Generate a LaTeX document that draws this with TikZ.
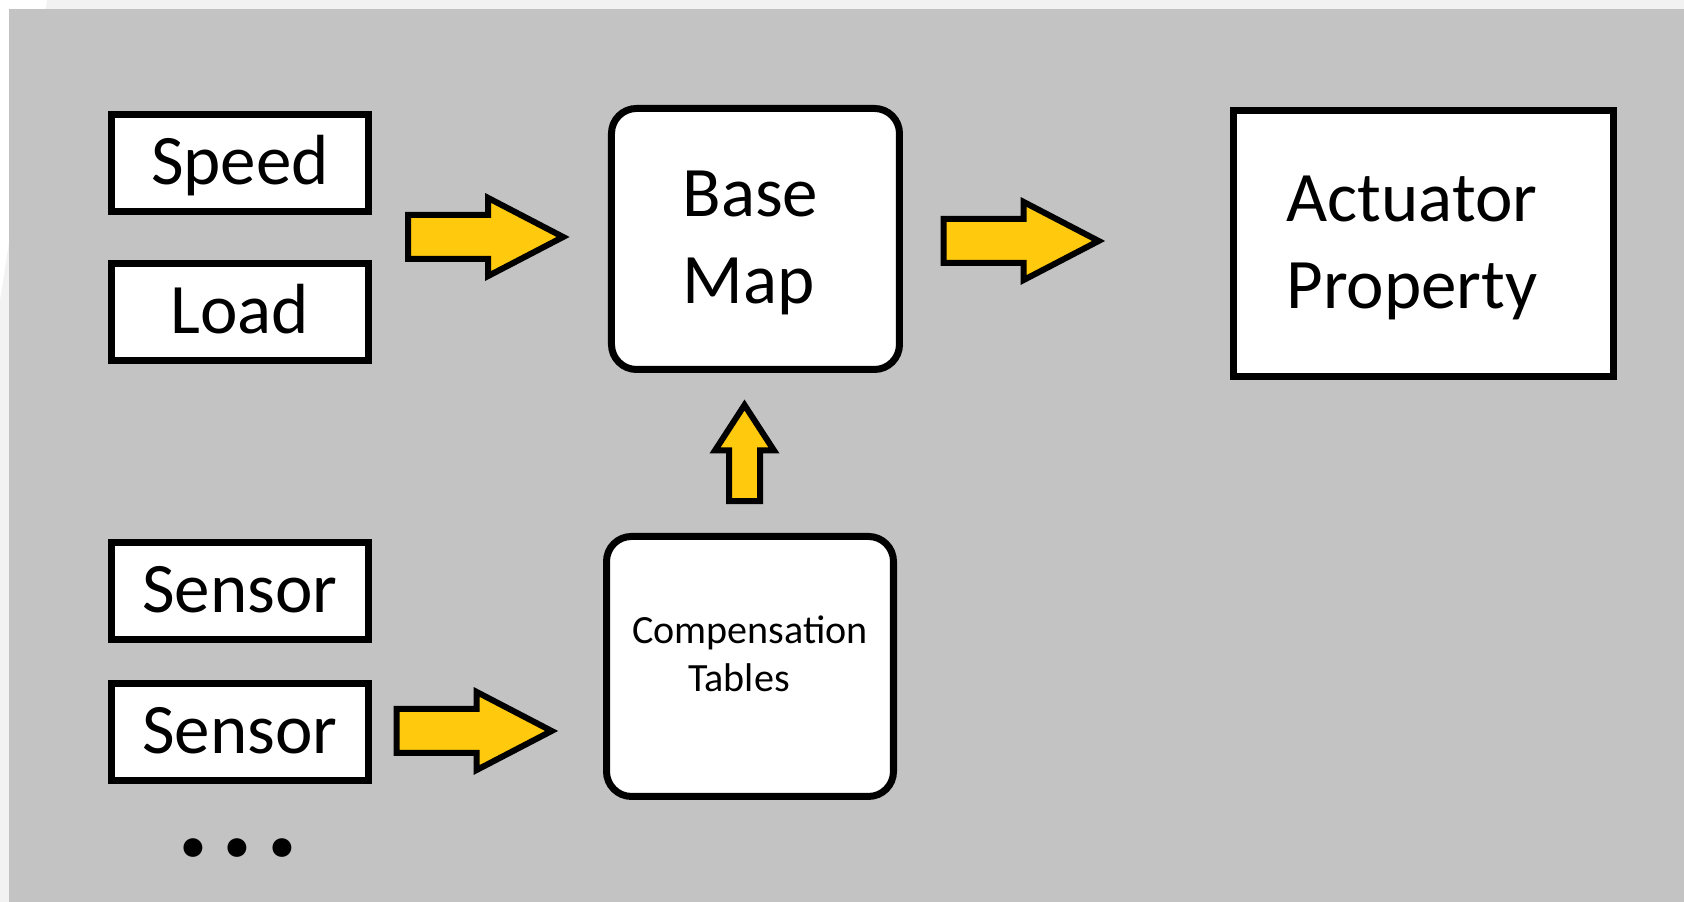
\documentclass[tikz,border=0pt]{standalone}
\usepackage{fontspec}
\setmainfont{Carlito}
\usepackage{tikz,tkz-graph}
\usetikzlibrary{shapes.arrows}
\definecolor{panelGray}{HTML}{C3C3C3}
\definecolor{frameGray}{HTML}{F2F2F2}
\definecolor{arrowGold}{HTML}{FFC90E}
\tikzstyle{inputBox}=[shape = rectangle, draw, fill = white, line width = 0.07cm, minimum width = 2.57cm, minimum height = 0.97cm, inner sep = 0pt, text height = 0.49cm, text depth = 0.06cm, font = {\fontsize{20.2}{24.8}\selectfont}]
\tikzstyle{flowArrow}=[shape = single arrow, draw, fill = arrowGold, line width = 0.06cm, inner sep = 0.19cm, minimum height = 1.55cm, single arrow head extend = 0.17cm, single arrow tip angle = 55]

\begin{document}
\begin{tikzpicture}[scale = 10]
\tikzstyle{VertexStyle} = []
\tikzstyle{mapBox}=[shape = rectangle, rounded corners = 0.25cm, draw, fill = white, line width = 0.07cm, minimum width = 2.88cm, minimum height = 2.61cm, inner sep = 0pt, text width = 1.46cm, align = left, text depth = 0.9cm, font = {\fontsize{20.2}{24.8}\selectfont}]
\tikzstyle{tableBox}=[mapBox, minimum width = 2.87cm, minimum height = 2.60cm, text width = 2.5cm, align = center, text depth = 0.73cm, font = {\fontsize{11.4}{13.7}\selectfont}]
\tikzstyle{outBox}=[mapBox, rounded corners = 0pt, minimum width = 3.80cm, minimum height = 2.66cm, text width = 2.74cm]
\tikzstyle{liftArrow}=[flowArrow, inner sep = 0.125cm, minimum height = 0.96cm, single arrow head extend = 0.14cm, single arrow tip angle = 66, shape border rotate = 90]
\tikzstyle{moreDots}=[inner sep = 0pt, font = {\fontsize{36}{36}\selectfont\bfseries}]
% backdrop
\fill[frameGray] (0,0) rectangle (1.684,0.902);
\fill[white] (0,0.902) -- (0.047,0.902) -- (0,0.602) -- cycle;
\fill[panelGray] (0.009,0) rectangle (1.684,0.893);
\Vertex[style = inputBox, x = 0.240, y = 0.7385, L = {Speed}]{speed}
\Vertex[style = inputBox, x = 0.240, y = 0.590, L = {Load}]{load}
\Vertex[style = inputBox, x = 0.240, y = 0.3105, L = {Sensor}]{sensorA}
\Vertex[style = inputBox, x = 0.240, y = 0.170, L = {Sensor}]{sensorB}
\Vertex[style = moreDots, x = 0.238, y = 0.054, L = {.\kern0.11cm.\kern0.11cm.}]{more}
\Vertex[style = mapBox, x = 0.7555, y = 0.663, L = {Base\\Map}]{base}
\Vertex[style = tableBox, x = 0.750, y = 0.2355, L = {Compensation\\Tables\rule{0.22cm}{0pt}}]{comp}
\Vertex[style = outBox, x = 1.4235, y = 0.6585, L = {Actuator\\Property}]{actuator}
\Vertex[style = flowArrow, NoLabel, x = 0.4645, y = 0.665]{toBase}
\Vertex[style = flowArrow, NoLabel, x = 1.000, y = 0.661]{toActuator}
\Vertex[style = flowArrow, NoLabel, x = 0.453, y = 0.171]{toComp}
\Vertex[style = liftArrow, NoLabel, x = 0.7445, y = 0.437]{compUp}
\end{tikzpicture}
\end{document}
